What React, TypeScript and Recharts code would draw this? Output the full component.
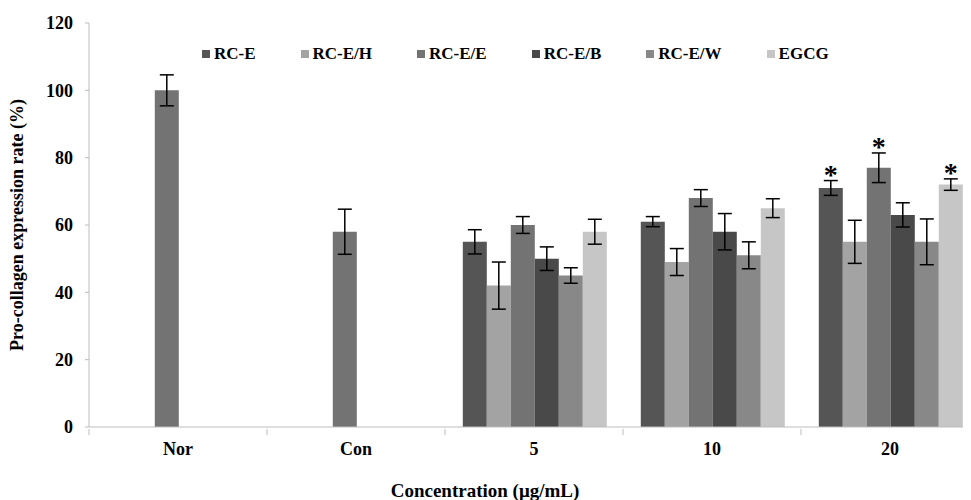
import React from "react";
import {
  BarChart,
  Bar,
  XAxis,
  YAxis,
  ErrorBar,
  LabelList,
  Label,
} from "recharts";

const categories = ["Nor", "Con", "5", "10", "20"];

const seriesNames = ["RC-E", "RC-E/H", "RC-E/E", "RC-E/B", "RC-E/W", "EGCG"];
const seriesColors = ["#555555", "#a3a3a3", "#737373", "#494949", "#888888", "#c6c6c6"];

// values per category (Nor / Con are drawn in the RC-E/E slot, as in the original)
const rcE = [null, null, 55, 61, 71];
const rcEH = [null, null, 42, 49, 55];
const rcEE = [100, 58, 60, 68, 77];
const rcEB = [null, null, 50, 58, 63];
const rcEW = [null, null, 45, 51, 55];
const egcg = [null, null, 58, 65, 72];

const rcEErr = [null, null, 3.6, 1.5, 2.2];
const rcEHErr = [null, null, 7, 4, 6.4];
const rcEEErr = [4.6, 6.7, 2.5, 2.5, 4.4];
const rcEBErr = [null, null, 3.5, 5.4, 3.6];
const rcEWErr = [null, null, 2.3, 4, 6.8];
const egcgErr = [null, null, 3.7, 2.8, 1.7];

// significance marks (*)
const rcEStar = [false, false, false, false, true];
const rcEEStar = [false, false, false, false, true];
const egcgStar = [false, false, false, false, true];

const yTicks = [0, 20, 40, 60, 80, 100, 120];

const values = [rcE, rcEH, rcEE, rcEB, rcEW, egcg];
const errors = [rcEErr, rcEHErr, rcEEErr, rcEBErr, rcEWErr, egcgErr];
const stars = [rcEStar, null, rcEEStar, null, null, egcgStar];

const data = categories.map((c, i) => {
  const row: Record<string, any> = { name: c };
  seriesNames.forEach((s, k) => {
    row[s] = values[k][i];
    row[s + "_err"] = errors[k][i];
    const st = stars[k];
    row[s + "_star"] = st && st[i] ? errors[k][i] : null;
  });
  return row;
});

const FONT = '"Liberation Serif", "Times New Roman", serif';
const AXIS_GRAY = "#bdbdbd";

const CHART_W = 990;
const CHART_H = 500;
const MARGIN = { top: 23, right: 11, left: 0, bottom: 0 };
const Y_AXIS_W = 89;
const X_AXIS_H = 73;
const Y_MAX = 120;
const BAND = (CHART_W - MARGIN.left - MARGIN.right - Y_AXIS_W) / categories.length;
const PX_PER_UNIT = (CHART_H - MARGIN.top - MARGIN.bottom - X_AXIS_H) / Y_MAX;

function XTick(props: any) {
  const { x, y, payload } = props;
  const bx = x - BAND / 2;
  return (
    <g>
      <line x1={bx} y1={y} x2={bx} y2={y + 6} stroke={AXIS_GRAY} strokeWidth={1} />
      <text
        x={x}
        y={y + 26}
        textAnchor="middle"
        fontFamily={FONT}
        fontWeight="bold"
        fontSize={18}
        fill="#000"
      >
        {payload.value}
      </text>
    </g>
  );
}

function StarLabel(props: any) {
  const { x, y, width, value } = props;
  if (value == null) return null;
  return (
    <text
      x={x + width / 2}
      y={y - value * PX_PER_UNIT + 3}
      textAnchor="middle"
      fontFamily={FONT}
      fontWeight="bold"
      fontSize={28}
      fill="#000"
    >
      *
    </text>
  );
}

function LegendBox() {
  return (
    <div
      style={{
        position: "absolute",
        left: 202,
        top: 44,
        display: "flex",
        gap: 45,
        fontFamily: FONT,
        fontWeight: "bold",
        fontSize: 17,
        lineHeight: "20px",
        color: "#000",
        whiteSpace: "nowrap",
      }}
    >
      {seriesNames.map((s, k) => (
        <div key={s} style={{ display: "flex", alignItems: "center" }}>
          <span
            style={{
              display: "inline-block",
              width: 8,
              height: 8,
              background: seriesColors[k],
              marginRight: 4,
            }}
          />
          <span>{s}</span>
        </div>
      ))}
    </div>
  );
}

export default function App() {
  return (
    <div
      style={{
        position: "relative",
        marginLeft: -8,
        marginTop: -8,
        width: 971,
        height: 500,
        overflow: "hidden",
        background: "#fff",
      }}
    >
      <BarChart
        width={CHART_W}
        height={CHART_H}
        data={data}
        margin={MARGIN}
        barCategoryGap="10%"
        barGap={0}
      >
        <XAxis
          dataKey="name"
          height={X_AXIS_H}
          axisLine={{ stroke: AXIS_GRAY }}
          tickLine={false}
          tickSize={0}
          tick={<XTick />}
          interval={0}
        >
          <Label
            content={(p: any) => {
              const vb = p.viewBox;
              return (
                <text
                  x={vb.x + vb.width / 2 - 49}
                  y={vb.y + vb.height - 3}
                  textAnchor="middle"
                  fontFamily={FONT}
                  fontWeight="bold"
                  fontSize={19}
                  fill="#000"
                >
                  Concentration (μg/mL)
                </text>
              );
            }}
          />
        </XAxis>
        <YAxis
          width={Y_AXIS_W}
          domain={[0, Y_MAX]}
          ticks={yTicks}
          interval={0}
          axisLine={{ stroke: AXIS_GRAY }}
          tickLine={{ stroke: AXIS_GRAY }}
          tickSize={4}
          tickMargin={12}
          tick={{ fontFamily: FONT, fontWeight: "bold", fontSize: 18, fill: "#000" }}
        >
          <Label
            content={(p: any) => {
              const vb = p.viewBox;
              const cx = vb.x + 23;
              const cy = vb.y + vb.height / 2;
              return (
                <text
                  x={cx}
                  y={cy}
                  transform={`rotate(-90, ${cx}, ${cy})`}
                  textAnchor="middle"
                  fontFamily={FONT}
                  fontWeight="bold"
                  fontSize={18}
                  fill="#000"
                >
                  Pro-collagen expression rate (%)
                </text>
              );
            }}
          />
        </YAxis>
        {seriesNames.map((s, k) => (
          <Bar key={s} dataKey={s} fill={seriesColors[k]} isAnimationActive={false}>
            <ErrorBar
              dataKey={s + "_err"}
              width={7}
              stroke="#000"
              strokeWidth={1.5}
              direction="y"
            />
            {stars[k] && <LabelList dataKey={s + "_star"} content={<StarLabel />} />}
          </Bar>
        ))}
      </BarChart>
      <LegendBox />
    </div>
  );
}
